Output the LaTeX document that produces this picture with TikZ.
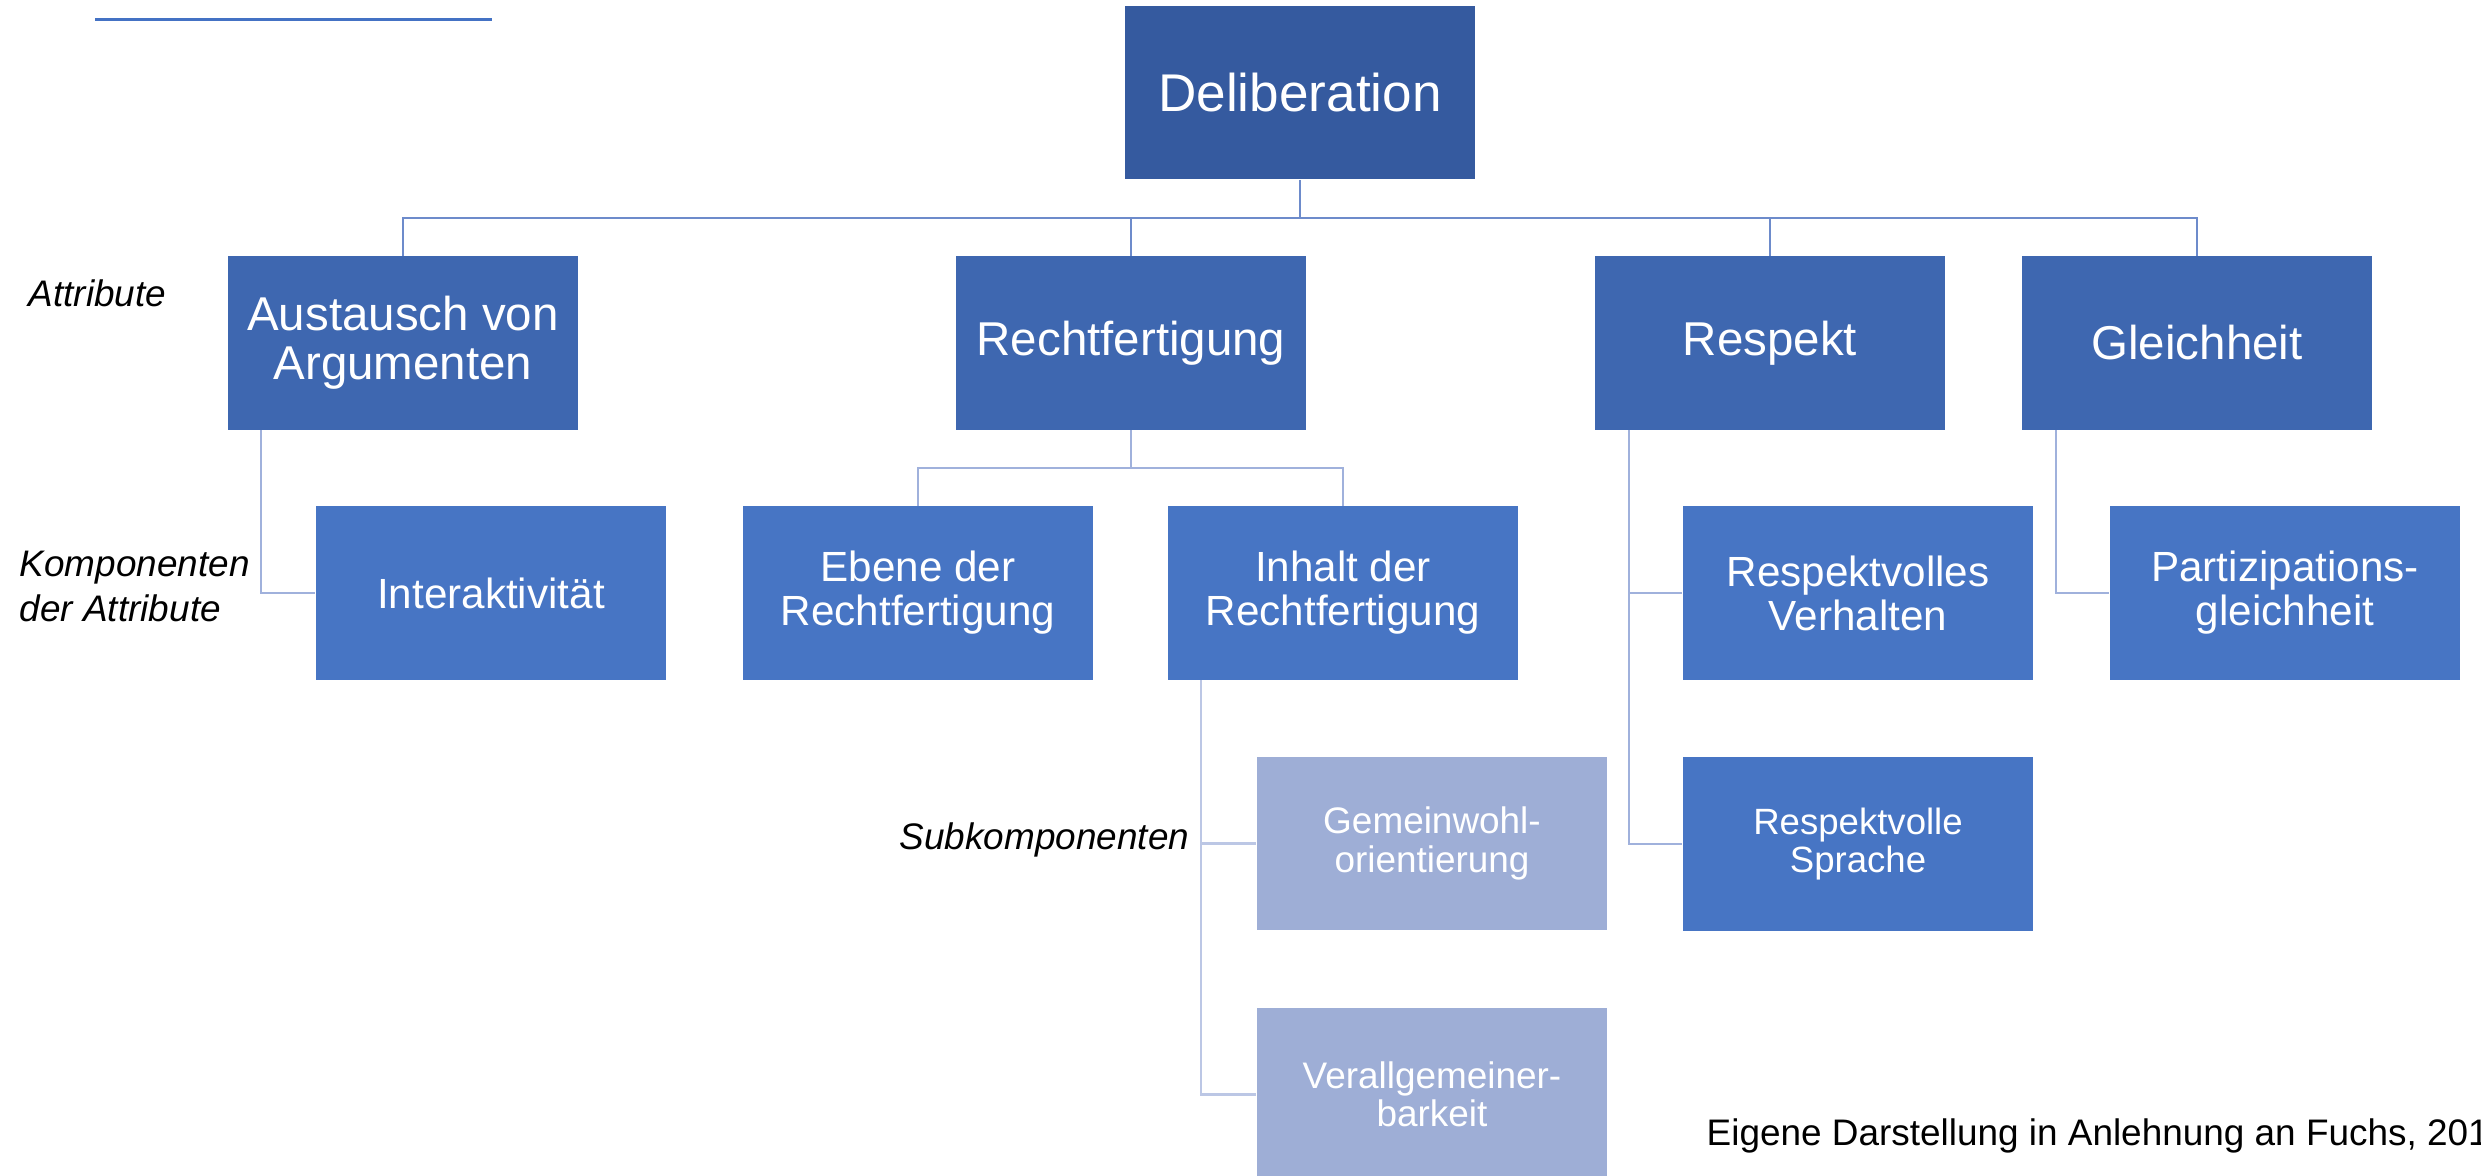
\documentclass[tikz,border=0pt]{standalone}
\usepackage{fontspec}
\setmainfont{Liberation Sans}
\definecolor{top}{HTML}{355A9F}
\definecolor{attr}{HTML}{3E67B0}
\definecolor{comp}{HTML}{4775C4}
\definecolor{sub}{HTML}{9EAED6}
\definecolor{lineA}{HTML}{6D8BCB}
\definecolor{lineB}{HTML}{A0B1DC}
\definecolor{lineC}{HTML}{BCC7E5}
\definecolor{rule}{HTML}{4472C4}
\tikzset{
  box/.style={rectangle, inner sep=0pt, minimum width=3.5cm, minimum height=1.73cm,
              align=center, text=white},
  rootbox/.style={box, fill=top, font=\fontsize{15.1}{15.6}\selectfont},
  attrbox/.style={box, fill=attr, font=\fontsize{13.5}{13.95}\selectfont},
  compbox/.style={box, fill=comp, font=\fontsize{12}{12.5}\selectfont},
  smallcompbox/.style={box, fill=comp, font=\fontsize{10.4}{10.8}\selectfont},
  subbox/.style={box, fill=sub, font=\fontsize{10.5}{10.85}\selectfont},
  lvlA/.style={draw=lineA, line width=0.025cm},
  lvlB/.style={draw=lineB, line width=0.025cm},
  lvlC/.style={draw=lineC, line width=0.025cm},
  tag/.style={inner sep=0pt, anchor=west, align=left,
              font=\fontsize{10.5}{12.8}\selectfont\itshape},
}
\begin{document}
\begin{tikzpicture}[x=0.01cm, y=-0.01cm]
  \useasboundingbox (0,0) rectangle (2481,1176);
  \clip (0,0) rectangle (2481,1176);

  % header rule
  \draw[draw=rule, line width=0.03cm] (95,20) -- (492,20);

  % root
  \node[rootbox] (del) at (1300,92.5) {Deliberation};

  % attributes
  \node[attrbox] (aus) at (403,343) {Austausch von\\Argumenten};
  \node[attrbox] (rec) at (1131,343) {Rechtfertigung};
  \node[attrbox] (res) at (1770,343) {Respekt};
  \node[attrbox] (gle) at (2197,343) {Gleichheit};

  % components
  \node[compbox] (int) at (491,593) {Interaktivität};
  \node[compbox] (ebe) at (918,593) {Ebene der\\Rechtfertigung};
  \node[compbox] (inh) at (1343,593) {Inhalt der\\Rechtfertigung};
  \node[compbox] (rvh) at (1858,593) {Respektvolles\\Verhalten};
  \node[smallcompbox] (rsp) at (1858,844) {Respektvolle\\Sprache};
  \node[compbox] (par) at (2285,593) {Partizipations-\\gleichheit};

  % subcomponents
  \node[subbox] (gem) at (1432,843.5) {Gemeinwohl-\\orientierung};
  \node[subbox] (ver) at (1432,1094.5) {Verallgemeiner-\\barkeit};

  % level labels
  \node[tag] (lab1) at (28,293) {Attribute};
  \node[tag] (lab2) at (19,586) {Komponenten\\der Attribute};
  \node[tag] (lab3) at (899,840) {Subkomponenten};

  % source note, running past the right edge
  \node[inner sep=0pt, anchor=west, font=\fontsize{10.5}{12}\selectfont] (src) at (1706,1136)
    {Eigene Darstellung in Anlehnung an Fuchs, 201};

  % root to attributes
  \coordinate (bus) at (0,218);
  \draw[lvlA] (del.south) -- (del.south |- bus);
  \draw[lvlA] (aus.north) -- (aus.north |- bus) -- (gle.north |- bus) -- (gle.north);
  \draw[lvlA] (rec.north) -- (rec.north |- bus);
  \draw[lvlA] (res.north) -- (res.north |- bus);

  % attributes to components
  \coordinate (rbus) at (0,468);
  \draw[lvlB] (rec.south) -- (rec.south |- rbus);
  \draw[lvlB] (ebe.north) -- (ebe.north |- rbus) -- (inh.north |- rbus) -- (inh.north);
  \draw[lvlB] ([xshift=0.34cm]aus.south west) |- (int.west);
  \draw[lvlB] ([xshift=0.35cm]res.south west) |- (rvh.west);
  \draw[lvlB] ([xshift=0.35cm]res.south west) |- (rsp.west);
  \draw[lvlB] ([xshift=0.35cm]gle.south west) |- (par.west);

  % components to subcomponents
  \draw[lvlC] ([xshift=0.34cm]inh.south west) |- (gem.west);
  \draw[lvlC] ([xshift=0.34cm]inh.south west) |- (ver.west);
\end{tikzpicture}
\end{document}
